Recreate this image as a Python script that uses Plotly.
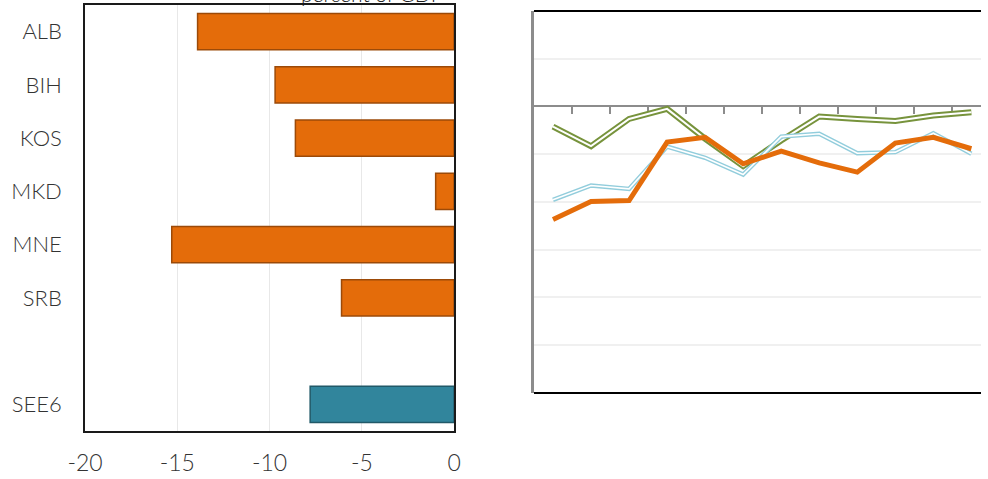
import plotly.graph_objects as go

# ---- left panel: bar chart (percent of GDP) ----
countries = ["ALB", "BIH", "KOS", "MKD", "MNE", "SRB"]
country_values = [-13.9, -9.7, -8.6, -1.0, -15.3, -6.1]
agg_label = ["SEE6"]
agg_value = [-7.8]
category_order = ["ALB", "BIH", "KOS", "MKD", "MNE", "SRB", " ", "SEE6"]
x_ticks = [-20, -15, -10, -5, 0]
x_tick_text = ["-20", "-15", "-10", "-5", "0"]

# ---- right panel: line chart ----
periods = [1, 2, 3, 4, 5, 6, 7, 8, 9, 10, 11, 12]
series_orange = [-4.73, -3.98, -3.94, -1.49, -1.29, -2.40, -1.87, -2.36, -2.75, -1.53, -1.29, -1.77]
series_blue = [-3.91, -3.31, -3.45, -1.68, -2.15, -2.85, -1.26, -1.14, -1.96, -1.91, -1.12, -1.98]
series_green = [-0.84, -1.66, -0.52, -0.10, -1.35, -2.50, -1.42, -0.42, -0.52, -0.61, -0.38, -0.24]
boundary_ticks = [1.5, 2.5, 3.5, 4.5, 5.5, 6.5, 7.5, 8.5, 9.5, 10.5, 11.5]

ORANGE = "#E46C0A"
TEAL = "#31859C"
BLUE = "#92CDDC"
GREEN = "#77933C"
FONT = "Lato"
TXT = "#333333"

fig = go.Figure()

fig.add_trace(go.Bar(
    x=country_values, y=countries, orientation="h", width=0.68,
    marker=dict(color=ORANGE, line=dict(color="#9C4A08", width=1.5)),
    xaxis="x", yaxis="y", showlegend=False, name="Countries"))
fig.add_trace(go.Bar(
    x=agg_value, y=agg_label, orientation="h", width=0.68,
    marker=dict(color=TEAL, line=dict(color="#215968", width=1.5)),
    xaxis="x", yaxis="y", showlegend=False, name="SEE6"))

# double (compound) lines: coloured wide line with thin white core
for vals, col, w_out, w_in in [(series_green, GREEN, 6.0, 2.0), (series_blue, BLUE, 4.4, 1.6)]:
    fig.add_trace(go.Scatter(x=periods, y=vals, mode="lines",
                             line=dict(color=col, width=w_out),
                             xaxis="x2", yaxis="y2", showlegend=False, hoverinfo="skip"))
    fig.add_trace(go.Scatter(x=periods, y=vals, mode="lines",
                             line=dict(color="white", width=w_in),
                             xaxis="x2", yaxis="y2", showlegend=False, hoverinfo="skip"))
fig.add_trace(go.Scatter(x=periods, y=series_orange, mode="lines",
                         line=dict(color=ORANGE, width=5),
                         xaxis="x2", yaxis="y2", showlegend=False))

fig.update_layout(
    width=988, height=479,
    margin=dict(l=85, r=0, t=5, b=48),
    paper_bgcolor="white", plot_bgcolor="white",
    font=dict(family=FONT, size=22, color=TXT, weight=300),
    xaxis=dict(domain=[0, 0.41196], range=[-20, 0], tickvals=x_ticks, ticktext=x_tick_text,
               showgrid=True, gridcolor="#E8E8E8", gridwidth=1, zeroline=False,
               showline=True, linecolor="#1a1a1a", linewidth=1.5, mirror=True,
               ticks="", ticklabelstandoff=11,
               tickfont=dict(family=FONT, size=23, color=TXT, weight=300)),
    yaxis=dict(domain=[0, 1], type="category", categoryarray=category_order,
               categoryorder="array", range=[7.5, -0.5], showgrid=False, zeroline=False,
               showline=True, linecolor="#1a1a1a", linewidth=1.5, mirror=True,
               ticks="", ticklabelstandoff=17,
               tickfont=dict(family=FONT, size=22, color=TXT, weight=300),
               anchor="x"),
    xaxis2=dict(domain=[0.50111, 1], range=[0.5, 12.253], anchor="free", position=0.7629,
                tickvals=boundary_ticks, showticklabels=False, ticks="outside",
                ticklen=7, tickwidth=2, tickcolor="#8C8C8C",
                showline=True, linecolor="#8C8C8C", linewidth=2,
                showgrid=False, zeroline=False, layer="below traces"),
    yaxis2=dict(domain=[0.0892, 0.98592], range=[-12, 4], dtick=2, anchor="x2",
                showticklabels=False, ticks="", showgrid=True, gridcolor="#F0F0F0",
                gridwidth=2, zeroline=False, showline=True, linecolor="#8C8C8C",
                linewidth=3, layer="below traces"),
    shapes=[
        dict(type="line", xref="x2 domain", yref="y2 domain", x0=0, x1=1, y0=1, y1=1,
             line=dict(color="black", width=2)),
        dict(type="line", xref="x2 domain", yref="y2 domain", x0=0, x1=1, y0=0, y1=0,
             line=dict(color="black", width=2)),
    ],
    annotations=[
        dict(text="percent of GDP", xref="x", yref="paper", x=-4.45, y=1,
             xanchor="center", yanchor="bottom", yshift=-3, showarrow=False,
             font=dict(family=FONT, size=21, color="#1a1a1a", weight=300)),
    ],
)

fig.write_html("out.html", config={"displayModeBar": False},
               post_script="document.body.style.margin='0';document.body.style.overflow='hidden';")
